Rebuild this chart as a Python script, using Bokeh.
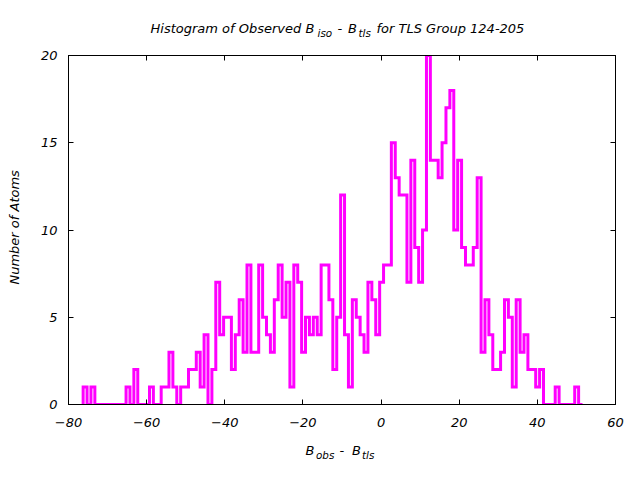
import math
import numpy as np
from bokeh.plotting import figure
from bokeh.layouts import column, row
from bokeh.models import LinearAxis, FixedTicker
from bokeh.core.properties import value
from bokeh.embed import file_html
from bokeh.resources import INLINE

# ---------------- data ----------------
counts = [1, 0, 1, 0, 0, 0, 0, 0, 0, 0, 0, 1, 0, 2, 0, 0, 0, 1, 0, 0,
          1, 1, 3, 1, 0, 1, 1, 2, 2, 3, 1, 4, 0, 2, 7, 4, 5, 5, 2, 4,
          6, 3, 8, 3, 3, 8, 5, 4, 3, 6, 8, 5, 7, 1, 8, 7, 3, 5, 4, 5,
          4, 8, 8, 6, 2, 5, 12, 4, 1, 6, 5, 4, 3, 7, 6, 4, 7, 8, 8, 15,
          13, 12, 12, 7, 14, 9, 7, 10, 20, 14, 14, 13, 15, 17, 18, 10, 14, 9, 8, 8,
          9, 13, 3, 6, 4, 2, 2, 3, 6, 5, 1, 6, 3, 4, 2, 2, 1, 2, 0, 0,
          0, 1, 0, 0, 0, 0, 1, 0]
bin_start = -76.25
bin_width = 0.9985
x_ticks = [-80, -60, -40, -20, 0, 20, 40, 60]
y_ticks = [0, 5, 10, 15, 20]
title_main_parts = ["Histogram of Observed B", "-", "B", "for TLS Group 124-205"]
title_sub_parts = ["iso", "tls"]
xlabel_main_parts = ["B", "-", "B"]
xlabel_sub_parts = ["obs", "tls"]
ylabel = "Number of Atoms"

# ---------------- geometry ----------------
W, H = 640, 480
TOP_H, BOT_H, LEFT_W = 44, 46, 26
MAIN_W, MAIN_H = W - LEFT_W, H - TOP_H - BOT_H
FRAME_L, FRAME_R, FRAME_T, FRAME_B = 68, 615, 55, 404
X0, X1, Y0, Y1 = -80, 60, 0, 20

FONT = "DejaVu Sans"
FS = 13
SUB = 10.4

p = figure(width=MAIN_W, height=MAIN_H, x_range=(X0, X1), y_range=(Y0, Y1),
           output_backend="svg", toolbar_location=None,
           min_border_left=FRAME_L - LEFT_W, min_border_right=W - FRAME_R,
           min_border_top=FRAME_T - TOP_H, min_border_bottom=(H - BOT_H) - FRAME_B)
p.title.visible = False
p.xgrid.visible = False
p.ygrid.visible = False
p.background_fill_color = "white"
p.border_fill_color = "white"
p.outline_line_color = "black"
p.outline_line_width = 1


def style_axis(ax, ticks, labels=True, standoff=10):
    ax.ticker = FixedTicker(ticks=ticks)
    ax.major_tick_in = 5
    ax.major_tick_out = 0
    ax.minor_tick_in = 0
    ax.minor_tick_out = 0
    ax.axis_line_color = "black"
    ax.major_tick_line_color = "black"
    ax.major_label_text_font = FONT
    ax.major_label_text_font_style = "italic"
    ax.major_label_text_color = "black"
    ax.major_label_standoff = standoff
    if labels:
        ax.major_label_text_font_size = f"{FS}px"
    else:
        ax.major_label_text_font_size = "1px"
        ax.major_label_overrides = {t: "" for t in ticks}


style_axis(p.xaxis[0], x_ticks, standoff=13)
style_axis(p.yaxis[0], y_ticks, standoff=11)

top_ax = LinearAxis()
style_axis(top_ax, x_ticks, labels=False, standoff=0)
p.add_layout(top_ax, "above")
right_ax = LinearAxis()
style_axis(right_ax, y_ticks, labels=False, standoff=0)
p.add_layout(right_ax, "right")

# ---------------- histogram steps ----------------
edges = bin_start + bin_width * np.arange(len(counts) + 1)
xs = np.concatenate([[edges[0]], edges])
ys = np.concatenate([[0], counts, [counts[-1]]])
p.step(xs, ys, mode="after", line_color="#ff00ff", line_width=3, line_join="miter")


# ---------------- text strips (pixel data ranges) ----------------
def strip(w, h):
    f = figure(width=w, height=h, x_range=(0, w), y_range=(0, h),
               output_backend="svg", toolbar_location=None,
               min_border=0, min_border_left=0, min_border_right=0,
               min_border_top=0, min_border_bottom=0)
    f.axis.visible = False
    f.grid.visible = False
    f.title.visible = False
    f.outline_line_color = None
    f.background_fill_color = "white"
    f.border_fill_color = "white"
    return f


def put(f, xs_, ys_, texts, size, align="left", baseline="alphabetic", angle=0.0):
    f.text(x=xs_, y=ys_, text=texts, text_font=value(FONT),
           text_font_style="italic", text_font_size=value(f"{size}px"),
           text_color="black", text_align=align, text_baseline=baseline, angle=angle)


# title (canvas baseline y=28, subscripts 4 px lower)
tf = strip(W, TOP_H)
tb = TOP_H - 28
put(tf, [150, 337, 347.5, 376], [tb] * 4, title_main_parts, FS)
put(tf, [317, 358], [tb - 4] * 2, title_sub_parts, SUB)

# x label (canvas baseline y=450)
xf = strip(W, BOT_H)
xb = H - 450
put(xf, [305, 339, 351.5], [xb] * 3, xlabel_main_parts, FS)
put(xf, [315.5, 361.5], [xb - 4] * 2, xlabel_sub_parts, SUB)

# y label (canvas centre x=14, y=236)
yf = strip(LEFT_W, MAIN_H)
put(yf, [14], [(H - BOT_H) - 236], [ylabel], FS, align="center", baseline="middle",
    angle=math.pi / 2)

layout = column(tf, row(yf, p, spacing=0), xf, spacing=0)

open("out.html", "w").write(file_html(layout, INLINE))
